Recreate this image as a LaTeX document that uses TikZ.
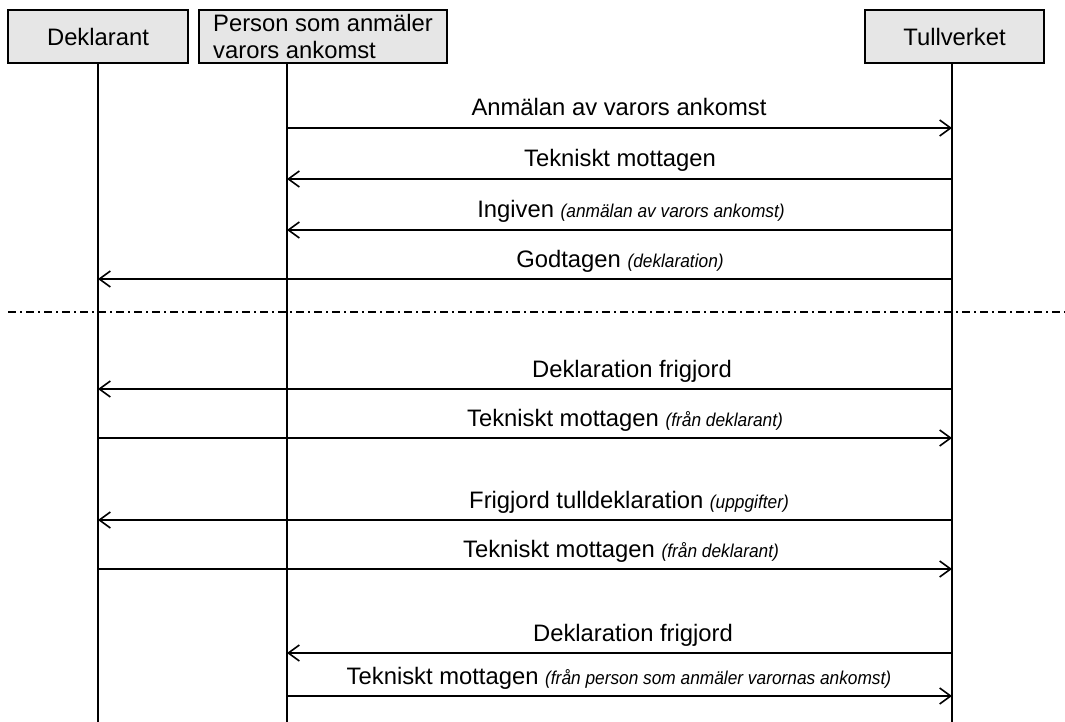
\documentclass[tikz,border=0pt]{standalone}
\usepackage{fontspec}
\setmainfont{Liberation Sans}
\newfontfamily\noteit[FakeStretch=0.93]{Liberation Sans}
\usetikzlibrary{arrows.meta}
\definecolor{boxgray}{HTML}{E6E6E6}
\newcommand{\mainsz}{\fontsize{23.8}{27.5}\selectfont}
\newcommand{\nt}[1]{{\noteit\itshape\fontsize{18.6}{20}\selectfont #1}}
\tikzset{
  actor/.style={draw, line width=1.5pt, fill=boxgray, minimum height=53pt, inner sep=0pt, font=\mainsz},
  life/.style={line width=1.5pt},
  msg/.style={line width=1.6pt, -{Straight Barb[length=11pt,width=16pt]}},
  lbl/.style={anchor=base, inner sep=0pt, font=\mainsz},
  sep/.style={line width=1.3pt, dash pattern=on 8pt off 4pt on 2pt off 4pt}
}
\begin{document}
\begin{tikzpicture}[x=1pt,y=-1pt]
\useasboundingbox (0,0) rectangle (1065,722);
% actors
\node[actor, minimum width=180pt] (D) at (98,36.5) {Deklarant};
\node[actor, minimum width=248pt, align=left] (P) at (323,36.5) {Person som anmäler\\varors ankomst};
\node[actor, minimum width=179pt] (T) at (954.5,36.5) {Tullverket};
% lifeline ends
\coordinate (Dtop) at (98,63);
\coordinate (Ptop) at (287,63);
\coordinate (Ttop) at (952,63);
\coordinate (Dend) at (98,722);
\coordinate (Pend) at (287,722);
\coordinate (Tend) at (952,722);
\draw[life] (Dtop) -- (Dend);
\draw[life] (Ptop) -- (Pend);
\draw[life] (Ttop) -- (Tend);
% message anchor points
\coordinate (P1) at (287,128); \coordinate (T1) at (952,128);
\coordinate (P2) at (287,179); \coordinate (T2) at (952,179);
\coordinate (P3) at (287,230); \coordinate (T3) at (952,230);
\coordinate (D4) at (98,279);  \coordinate (T4) at (952,279);
\coordinate (D5) at (98,389);  \coordinate (T5) at (952,389);
\coordinate (D6) at (98,438);  \coordinate (T6) at (952,438);
\coordinate (D7) at (98,520);  \coordinate (T7) at (952,520);
\coordinate (D8) at (98,569);  \coordinate (T8) at (952,569);
\coordinate (P9) at (287,653); \coordinate (T9) at (952,653);
\coordinate (P10) at (287,696); \coordinate (T10) at (952,696);
% messages
\draw[msg] (P1) -- (T1);
\draw[msg] (T2) -- (P2);
\draw[msg] (T3) -- (P3);
\draw[msg] (T4) -- (D4);
\draw[msg] (T5) -- (D5);
\draw[msg] (D6) -- (T6);
\draw[msg] (T7) -- (D7);
\draw[msg] (D8) -- (T8);
\draw[msg] (T9) -- (P9);
\draw[msg] (P10) -- (T10);
% separator
\coordinate (sepL) at (8,312);
\coordinate (sepR) at (1065,312);
\draw[sep] (sepL) -- (sepR);
% labels
\node[lbl] (l1) at (619,116) {Anmälan av varors ankomst};
\node[lbl] (l2) at (620,167) {Tekniskt mottagen};
\node[lbl] (l3) at (631,218) {Ingiven \nt{(anmälan av varors ankomst)}};
\node[lbl] (l4) at (620,267) {Godtagen \nt{(deklaration)}};
\node[lbl] (l5) at (632,377) {Deklaration frigjord};
\node[lbl] (l6) at (625,426) {Tekniskt mottagen \nt{(från deklarant)}};
\node[lbl] (l7) at (629,508) {Frigjord tulldeklaration \nt{(uppgifter)}};
\node[lbl] (l8) at (621,557) {Tekniskt mottagen \nt{(från deklarant)}};
\node[lbl] (l9) at (633,641) {Deklaration frigjord};
\node[lbl] (l10) at (619,684) {Tekniskt mottagen \nt{(från person som anmäler varornas ankomst)}};
\end{tikzpicture}
\end{document}
